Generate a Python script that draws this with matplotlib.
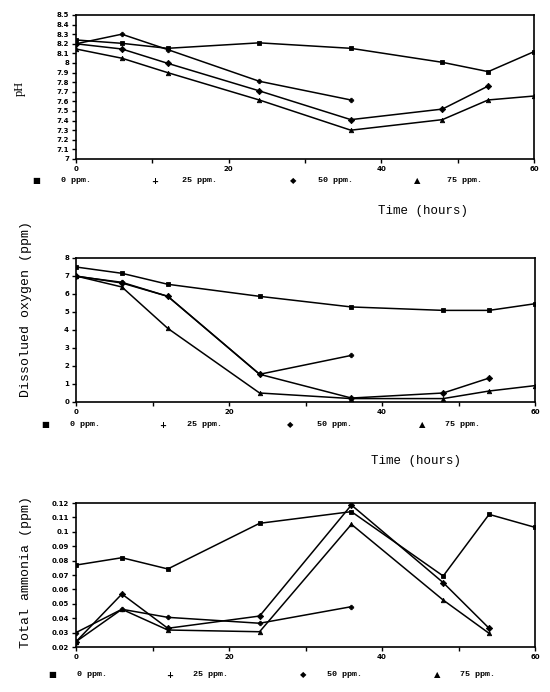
import matplotlib
matplotlib.use("Agg")
import matplotlib.pyplot as plt

# sampling times (hours)
hours = [0, 6, 12, 24, 36, 48, 54, 60]
conc_labels = ["0 ppm.", "25 ppm.", "50 ppm.", "75 ppm."]
conc_glyphs = ["\u25a0", "+", "\u25c6", "\u25b2"]
markers = ["s", "P", "D", "^"]

# pH
ph_0 = [8.24, 8.205, 8.153, 8.21, 8.153, 8.007, 7.91, 8.118]
ph_25 = [8.20, 8.30, 8.14, 7.81, 7.615]
ph_50 = [8.20, 8.146, 7.997, 7.71, 7.41, 7.52, 7.76]
ph_75 = [8.146, 8.05, 7.90, 7.615, 7.30, 7.41, 7.615, 7.656]

# dissolved oxygen (ppm)
do_0 = [7.5, 7.15, 6.54, 5.87, 5.28, 5.09, 5.09, 5.46]
do_25 = [6.98, 6.65, 5.87, 1.54, 2.59]
do_50 = [7.0, 6.61, 5.87, 1.54, 0.22, 0.5, 1.33]
do_75 = [7.0, 6.39, 4.09, 0.5, 0.19, 0.19, 0.61, 0.91]

# total ammonia (ppm)
nh_0 = [0.0769, 0.082, 0.0742, 0.1059, 0.114, 0.0693, 0.1121, 0.1031]
nh_25 = [0.030, 0.0462, 0.0406, 0.0365, 0.048]
nh_50 = [0.0237, 0.0568, 0.033, 0.0415, 0.1186, 0.0647, 0.033]
nh_75 = [0.0237, 0.0462, 0.0318, 0.0306, 0.1052, 0.0526, 0.0295]

ph_ticks = [7 + i / 10 for i in range(16)]
ph_ticklabels = ["7", "7.1", "7.2", "7.3", "7.4", "7.5", "7.6", "7.7", "7.8", "7.9",
                 "8", "8.1", "8.2", "8.3", "8.4", "8.5"]
do_ticks = [0, 1, 2, 3, 4, 5, 6, 7, 8]
nh_ticks = [0.02, 0.03, 0.04, 0.05, 0.06, 0.07, 0.08, 0.09, 0.10, 0.11, 0.12]
nh_ticklabels = ["0.02", "0.03", "0.04", "0.05", "0.06", "0.07", "0.08", "0.09",
                 "0.1", "0.11", "0.12"]

W, H = 550, 692
fig = plt.figure(figsize=(W / 100, H / 100), dpi=100)
mono = "Liberation Mono"


def box(l, t, r, b):
    return [l / W, 1 - b / H, (r - l) / W, (b - t) / H]


def panel(rect, series, ylim, yticks, yticklabels):
    ax = fig.add_axes(rect)
    for vals, m in zip(series, markers):
        ax.plot(hours[:len(vals)], vals, color="black", lw=1.1, marker=m,
                ms=3.2, mew=0.6, mfc="black", mec="black")
    ax.set_xlim(0, 60)
    ax.set_ylim(*ylim)
    ax.set_xticks([0, 20, 40, 60])
    ax.set_xticklabels(["0", "20", "40", "60"])
    ax.set_xticks([10, 30, 50], minor=True)
    ax.set_yticks(yticks)
    ax.set_yticklabels(yticklabels)
    ax.tick_params(axis="both", which="both", direction="out", length=3, width=1,
                   labelsize=5, pad=2)
    for lab in ax.get_xticklabels() + ax.get_yticklabels():
        lab.set_fontweight("bold")
    for s in ax.spines.values():
        s.set_linewidth(1.2)
    return ax


def legend_row(y, xs_glyph, xs_text):
    for g, lab, xg, xt in zip(conc_glyphs, conc_labels, xs_glyph, xs_text):
        fig.text(xg / W, 1 - y / H, g, ha="center", va="center", fontsize=6,
                 fontweight="bold", family="DejaVu Sans")
        fig.text(xt / W, 1 - y / H, lab, ha="left", va="center", fontsize=6,
                 fontweight="bold", family=mono)


panel(box(76, 15, 534, 159), [ph_0, ph_25, ph_50, ph_75], (7, 8.5), ph_ticks, ph_ticklabels)
panel(box(76, 258, 535, 402), [do_0, do_25, do_50, do_75], (0, 8), do_ticks,
      [str(v) for v in do_ticks])
panel(box(76, 503, 535, 647), [nh_0, nh_25, nh_50, nh_75], (0.02, 0.12), nh_ticks, nh_ticklabels)

legend_row(181, [36, 155, 293, 417], [61, 182, 318, 447])
legend_row(425, [45, 163, 290, 422], [70, 187, 317, 445])
legend_row(675, [52, 170, 303, 437], [77, 193, 327, 460])

fig.text(423 / W, 1 - 211 / H, "Time (hours)", ha="center", va="center", fontsize=9, family=mono)
fig.text(416 / W, 1 - 461 / H, "Time (hours)", ha="center", va="center", fontsize=9, family=mono)

fig.text(20 / W, 1 - 88 / H, "pH", ha="center", va="center", rotation=90, fontsize=9,
         family="Liberation Serif")
fig.text(26 / W, 1 - 309 / H, "Dissolued oxygen (ppm)", ha="center", va="center",
         rotation=90, fontsize=9.5, family=mono)
fig.text(26 / W, 1 - 572 / H, "Total ammonia (ppm)", ha="center", va="center",
         rotation=90, fontsize=9.5, family=mono)

fig.savefig("out.png", dpi=100)
